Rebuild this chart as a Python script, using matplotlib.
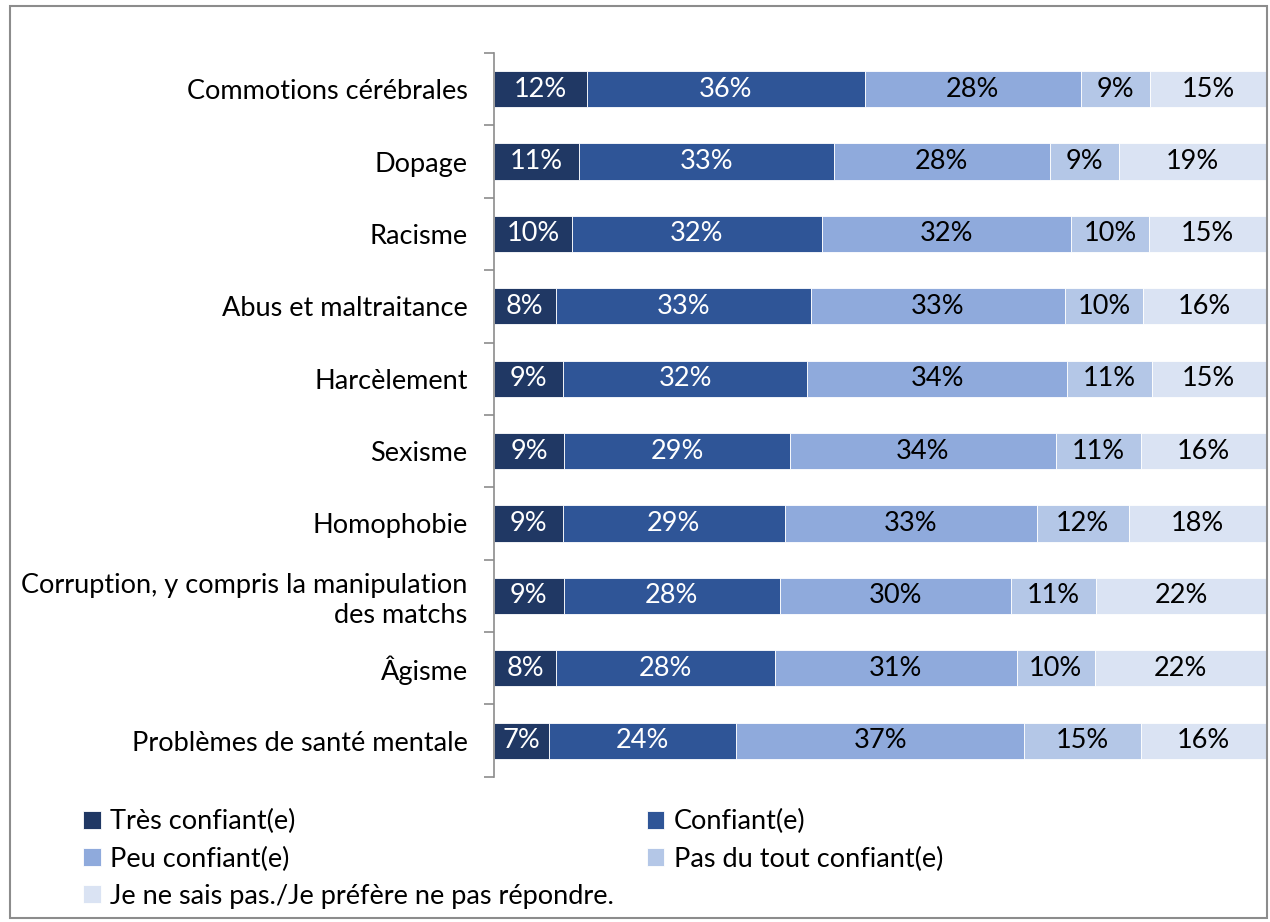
import matplotlib.pyplot as plt
import numpy as np
from matplotlib.patches import Rectangle

plt.rcParams['font.family'] = ['Lato', 'DejaVu Sans']

categories = ['Commotions cérébrales', 'Dopage', 'Racisme', 'Abus et maltraitance',
              'Harcèlement', 'Sexisme', 'Homophobie',
              'Corruption, y compris la manipulation\ndes matchs',
              'Âgisme', 'Problèmes de santé mentale']
tres_confiant = [12, 11, 10, 8, 9, 9, 9, 9, 8, 7]
confiant = [36, 33, 32, 33, 32, 29, 29, 28, 28, 24]
peu_confiant = [28, 28, 32, 33, 34, 34, 33, 30, 31, 37]
pas_du_tout = [9, 9, 10, 10, 11, 11, 12, 11, 10, 15]
ne_sais_pas = [15, 19, 15, 16, 15, 16, 18, 22, 22, 16]

series_names = ['Très confiant(e)', 'Confiant(e)', 'Peu confiant(e)',
                'Pas du tout confiant(e)', 'Je ne sais pas./Je préfère ne pas répondre.']
series = [tres_confiant, confiant, peu_confiant, pas_du_tout, ne_sais_pas]
colors = ['#203864', '#2F5597', '#8FAADC', '#B4C7E7', '#DAE3F3']
text_colors = ['white', 'white', 'black', 'black', 'black']

fs = 19.5
fig = plt.figure(figsize=(12.7, 9.22), dpi=100)
ax = fig.add_axes([0.389, 0.1575, 0.608, 0.785])

# rounded percentages don't always add to 100, so each row is scaled to a full bar
totals = np.sum(series, axis=0)
y = np.arange(len(categories))
left = np.zeros(len(categories))
bars = []
for vals, name, col, tcol in zip(series, series_names, colors, text_colors):
    vals = np.array(vals)
    widths = vals / totals * 100
    b = ax.barh(y, widths, left=left, height=0.5, color=col, label=name,
                edgecolor='white', linewidth=0.6)
    bars.append(b)
    for yi, l, w, v in zip(y, left, widths, vals):
        ax.text(l + w / 2, yi, f'{v}%', ha='center', va='center',
                color=tcol, fontsize=fs)
    left += widths

ax.set_ylim(len(categories) - 0.5, -0.5)
ax.set_xlim(0, 100)
ax.set_yticks(y)
ax.set_yticklabels(categories, fontsize=fs, ha='right', linespacing=1.25)
ax.tick_params(axis='y', length=0, pad=19)
# tick marks sit between the categories
ax.set_yticks(np.arange(len(categories) + 1) - 0.5, minor=True)
ax.tick_params(axis='y', which='minor', length=7, width=1.2, color='#8c8c8c')
ax.set_xticks([])
for s in ['top', 'right', 'bottom']:
    ax.spines[s].set_visible(False)
ax.spines['left'].set_color('#8c8c8c')
ax.spines['left'].set_linewidth(1.2)

order = [0, 2, 4, 1, 3]
handles = [bars[i] for i in order]
labels = [series_names[i] for i in order]
fig.legend(handles, labels, ncol=2, loc='upper left', bbox_to_anchor=(0.057, 0.134),
           frameon=False, fontsize=fs, handlelength=0.65, handleheight=0.65,
           handletextpad=0.35, columnspacing=1.2, labelspacing=0.45, borderaxespad=0)

fig.patches.append(Rectangle((0.008, 0.004), 0.99, 0.99, transform=fig.transFigure,
                             fill=False, edgecolor='#8c8c8c', linewidth=1.5))

fig.savefig('out.png', dpi=100)
